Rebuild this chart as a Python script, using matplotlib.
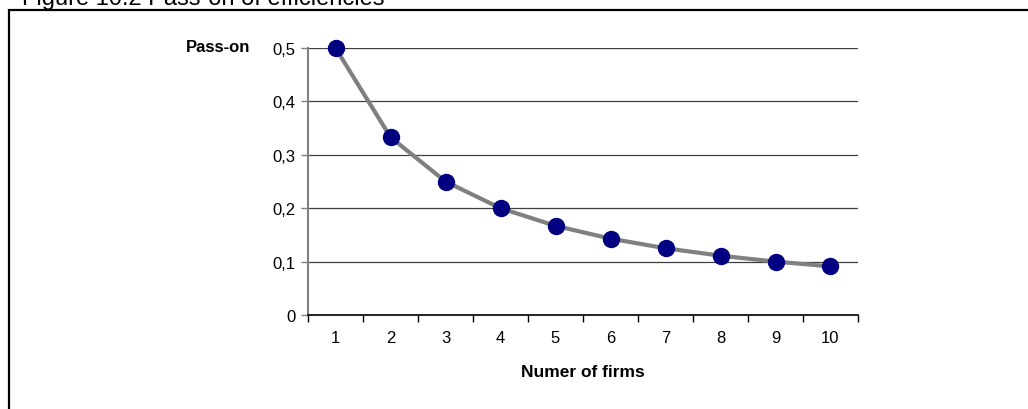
import matplotlib
matplotlib.use("Agg")
import matplotlib.pyplot as plt
from matplotlib.patches import Rectangle

plt.rcParams['font.family'] = ['Liberation Sans', 'DejaVu Sans']

# Share of efficiencies passed on to consumers, by number of firms
firms = [1, 2, 3, 4, 5, 6, 7, 8, 9, 10]
pass_on = [0.5, 0.333, 0.25, 0.2, 0.167, 0.143, 0.125, 0.111, 0.1, 0.091]
y_ticks = [0, 0.1, 0.2, 0.3, 0.4, 0.5]
y_tick_labels = ["0", "0,1", "0,2", "0,3", "0,4", "0,5"]

W, H = 1028, 410
fig = plt.figure(figsize=(W / 100, H / 100), dpi=100)

# Outer frame around the figure panel
fig.patches.append(Rectangle((9 / W, -0.1), 1.2, 1 - 11 / H + 0.1,
                             transform=fig.transFigure, fill=False,
                             edgecolor="black", linewidth=1.6, clip_on=False))
fig.text(22 / W, 1 - 5 / H, "Figure 10.2 Pass-on of efficiencies",
         fontsize=17, ha="left", va="baseline")

left, right, top, bottom = 308, 858, 49, 316
ax = fig.add_axes([left / W, 1 - bottom / H, (right - left) / W, (bottom - top) / H])

ax.plot(firms, pass_on, color="#808080", linewidth=3, zorder=3,
        marker="o", markersize=11.5, markerfacecolor="#000080",
        markeredgecolor="#000080", clip_on=False)

ax.set_xlim(0.5, 10.5)
ax.set_ylim(0, 0.5)

# Category axis: ticks between categories, labels at the centres
ax.set_xticks([i + 0.5 for i in range(0, 11)])
ax.set_xticklabels([])
ax.set_xticks(firms, minor=True)
ax.set_xticklabels([str(f) for f in firms], minor=True, fontsize=12)
ax.tick_params(axis="x", which="major", direction="out", length=5, width=1, color="black")
ax.tick_params(axis="x", which="minor", length=0, pad=11)

ax.set_yticks(y_ticks)
ax.set_yticklabels(y_tick_labels, fontsize=12)
ax.tick_params(axis="y", direction="out", length=5, width=1, color="#808080", pad=4)

ax.grid(axis="y", color="#404040", linewidth=0.9)
ax.set_axisbelow(True)

for s in ("top", "right"):
    ax.spines[s].set_visible(False)
ax.spines["left"].set_color("#808080")
ax.spines["left"].set_linewidth(1.5)
ax.spines["bottom"].set_color("black")
ax.spines["bottom"].set_linewidth(1.2)

fig.text(583 / W, 1 - 373 / H, "Numer of firms", fontsize=12.5,
         fontweight="bold", ha="center", va="center")
fig.text(218 / W, 1 - 47 / H, "Pass-on", fontsize=12,
         fontweight="bold", ha="center", va="center")

fig.savefig("out.png", dpi=100)
